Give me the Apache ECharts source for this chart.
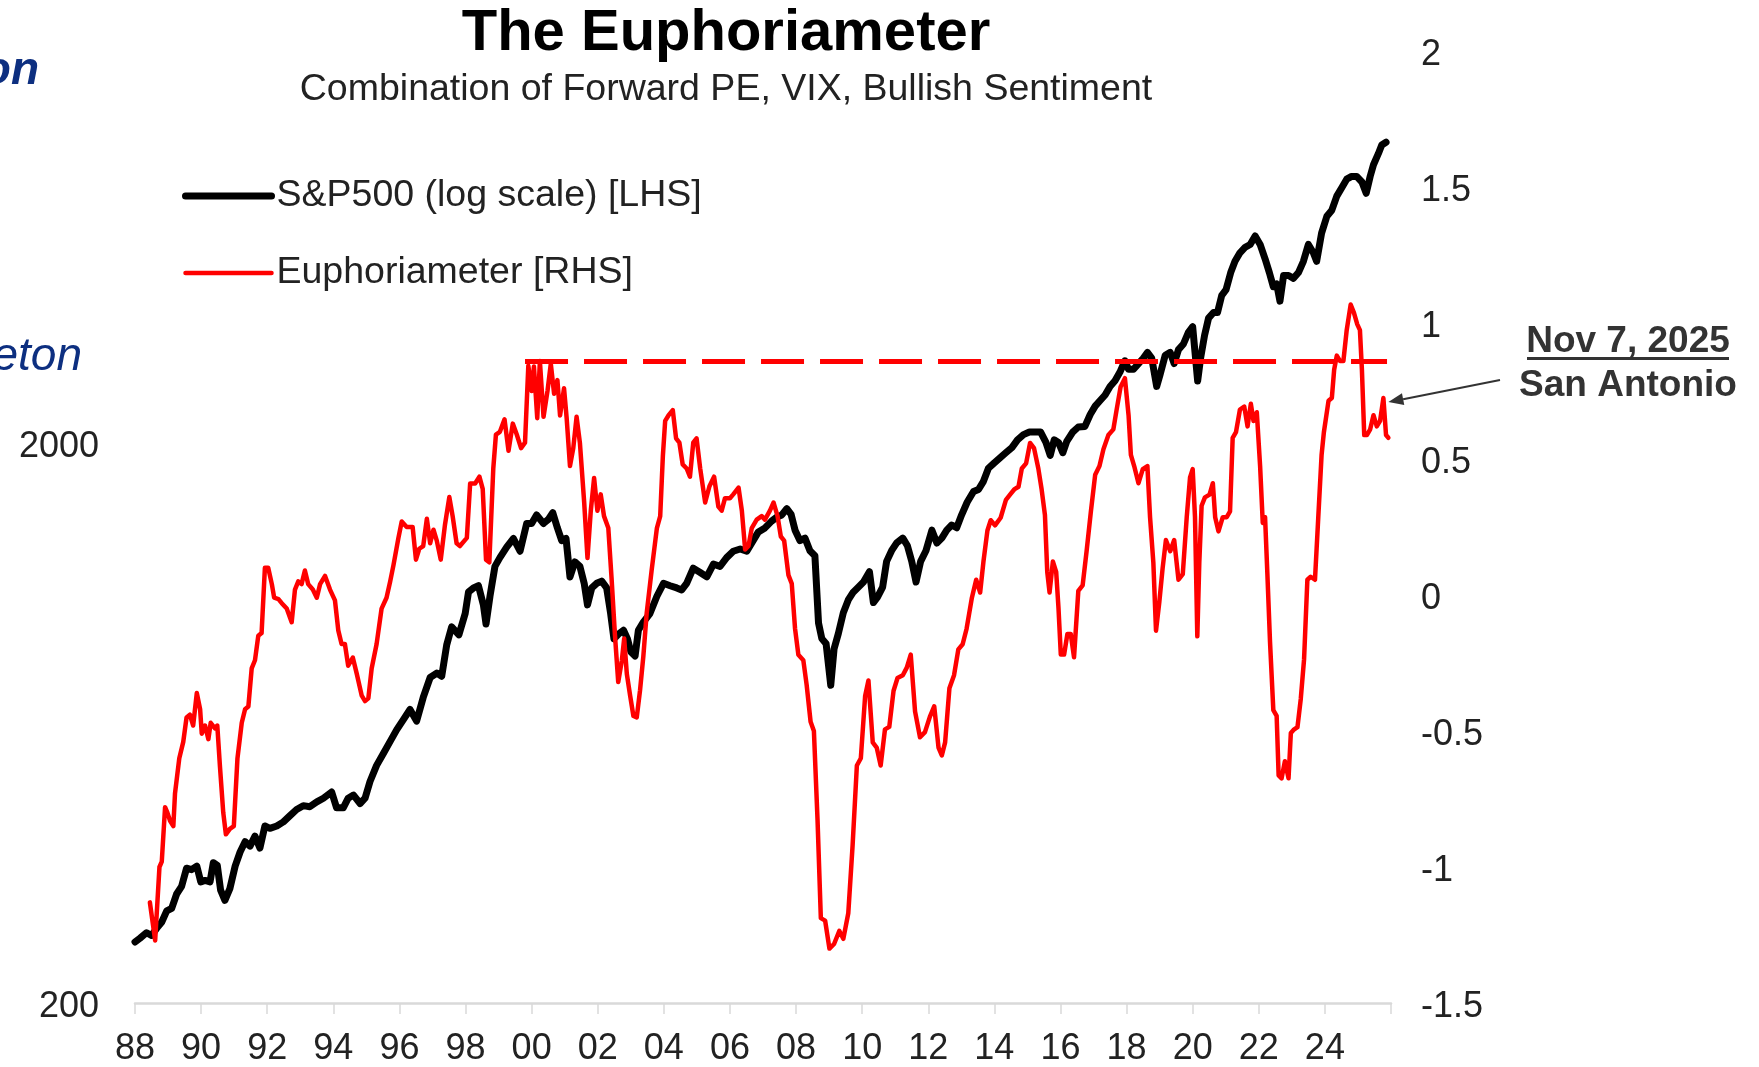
<!DOCTYPE html>
<html>
<head>
<meta charset="utf-8">
<title>The Euphoriameter</title>
<script src="https://cdn.jsdelivr.net/npm/echarts@6.0.0/dist/echarts.min.js"></script>
<style>
    html, body { margin: 0; padding: 0; background: #fff; }
    #chart { width: 1759px; height: 1067px; }
</style>
</head>
<body>
<div id="chart"></div>
<script>
    // S&P500 readings (decimal year, index level)
    var spxYears = [
        1988.00, 1988.15, 1988.35, 1988.50, 1988.66, 1988.81, 1988.96, 1989.11, 1989.26, 1989.41,
        1989.56, 1989.71, 1989.87, 1989.99, 1990.12, 1990.27, 1990.37, 1990.49, 1990.59, 1990.72,
        1990.87, 1991.03, 1991.18, 1991.33, 1991.48, 1991.63, 1991.78, 1991.93, 1992.08, 1992.29,
        1992.49, 1992.69, 1992.89, 1993.09, 1993.29, 1993.50, 1993.70, 1993.95, 1994.10, 1994.30,
        1994.45, 1994.61, 1994.81, 1994.96, 1995.11, 1995.31, 1995.51, 1995.72, 1995.92, 1996.12,
        1996.32, 1996.52, 1996.72, 1996.93, 1997.13, 1997.28, 1997.43, 1997.58, 1997.80, 1997.99,
        1998.09, 1998.24, 1998.39, 1998.54, 1998.62, 1998.74, 1998.89, 1999.04, 1999.25, 1999.45,
        1999.65, 1999.85, 2000.00, 2000.15, 2000.36, 2000.51, 2000.64, 2000.78, 2000.91, 2001.04,
        2001.16, 2001.31, 2001.46, 2001.59, 2001.69, 2001.82, 2001.97, 2002.12, 2002.27, 2002.39,
        2002.49, 2002.62, 2002.78, 2002.90, 2003.00, 2003.13, 2003.23, 2003.38, 2003.58, 2003.79,
        2003.99, 2004.19, 2004.39, 2004.54, 2004.69, 2004.89, 2005.10, 2005.30, 2005.50, 2005.70,
        2005.90, 2006.10, 2006.31, 2006.51, 2006.66, 2006.86, 2007.06, 2007.26, 2007.42, 2007.57,
        2007.72, 2007.85, 2007.97, 2008.12, 2008.27, 2008.42, 2008.57, 2008.68, 2008.78, 2008.91,
        2009.05, 2009.15, 2009.28, 2009.43, 2009.58, 2009.73, 2009.89, 2010.04, 2010.22, 2010.34,
        2010.46, 2010.62, 2010.74, 2010.89, 2011.04, 2011.23, 2011.37, 2011.50, 2011.63, 2011.77,
        2011.93, 2012.11, 2012.26, 2012.41, 2012.56, 2012.71, 2012.86, 2013.01, 2013.18, 2013.37,
        2013.52, 2013.67, 2013.82, 2013.99, 2014.17, 2014.35, 2014.53, 2014.70, 2014.88, 2015.06,
        2015.23, 2015.40, 2015.56, 2015.69, 2015.81, 2015.94, 2016.07, 2016.19, 2016.37, 2016.54,
        2016.74, 2016.90, 2017.05, 2017.20, 2017.35, 2017.50, 2017.65, 2017.80, 2017.95, 2018.06,
        2018.21, 2018.36, 2018.51, 2018.63, 2018.76, 2018.91, 2019.01, 2019.17, 2019.32, 2019.44,
        2019.57, 2019.72, 2019.87, 2020.00, 2020.07, 2020.15, 2020.24, 2020.36, 2020.48, 2020.63,
        2020.75, 2020.88, 2021.01, 2021.15, 2021.28, 2021.43, 2021.59, 2021.74, 2021.89, 2022.04,
        2022.19, 2022.32, 2022.44, 2022.54, 2022.64, 2022.75, 2022.90, 2023.05, 2023.20, 2023.35,
        2023.50, 2023.65, 2023.75, 2023.90, 2024.06, 2024.21, 2024.36, 2024.51, 2024.66, 2024.81,
        2024.96, 2025.12, 2025.25, 2025.37, 2025.47, 2025.62, 2025.72, 2025.85
    ];
    var spxLevels = [
        257, 261, 267, 264, 272, 279, 292, 295, 313, 323,
        348, 346, 351, 329, 331, 329, 356, 352, 318, 305,
        320, 351, 372, 388, 381, 397, 378, 414, 410, 414,
        421, 432, 443, 450, 448, 457, 464, 476, 446, 446,
        464, 470, 454, 464, 497, 531, 557, 586, 615, 641,
        668, 637, 702, 762, 776, 766, 871, 938, 908, 991,
        1083, 1101, 1111, 1027, 949, 1064, 1203, 1247, 1303, 1349,
        1280, 1435, 1435, 1486, 1435, 1460, 1500, 1409, 1337, 1350,
        1152, 1225, 1203, 1122, 1027, 1101, 1122, 1132, 1101, 991,
        893, 910, 925, 893, 847, 832, 925, 957, 991, 1064,
        1122, 1111, 1101, 1092, 1122, 1194, 1173, 1152, 1214, 1203,
        1247, 1280, 1292, 1280, 1325, 1386, 1409, 1449, 1473, 1486,
        1525, 1490, 1396, 1337, 1351, 1283, 1257, 953, 894, 875,
        738, 857, 913, 994, 1048, 1082, 1105, 1128, 1177, 1037,
        1059, 1105, 1228, 1283, 1324, 1351, 1309, 1228, 1128, 1228,
        1283, 1396, 1324, 1351, 1396, 1426, 1410, 1487, 1567, 1636,
        1650, 1706, 1800, 1839, 1879, 1919, 1960, 2023, 2067, 2089,
        2089, 2089, 2002, 1898, 2023, 2002, 1919, 2010, 2089, 2133,
        2138, 2245, 2324, 2378, 2433, 2520, 2580, 2673, 2800, 2704,
        2704, 2768, 2832, 2898, 2832, 2520, 2642, 2865, 2898, 2768,
        2931, 3000, 3148, 3221, 2900, 2577, 2832, 3110, 3336, 3414,
        3414, 3665, 3751, 4023, 4213, 4363, 4465, 4516, 4677, 4516,
        4257, 4023, 3796, 3840, 3577, 3974, 3974, 3929, 4023, 4213,
        4516, 4363, 4213, 4731, 5071, 5199, 5508, 5703, 5906, 5973,
        5973, 5837, 5572, 5973, 6267, 6564, 6796, 6874
    ];

    // Euphoriameter readings (decimal year, index value on the right axis)
    var euphYears = [
        1988.45, 1988.61, 1988.74, 1988.81, 1988.91, 1988.98, 1989.06, 1989.16, 1989.21, 1989.34,
        1989.46, 1989.56, 1989.66, 1989.76, 1989.87, 1989.97, 1990.02, 1990.12, 1990.22, 1990.29,
        1990.42, 1990.49, 1990.57, 1990.67, 1990.75, 1990.87, 1990.99, 1991.10, 1991.23, 1991.33,
        1991.43, 1991.53, 1991.63, 1991.73, 1991.83, 1991.93, 1992.03, 1992.14, 1992.21, 1992.34,
        1992.44, 1992.59, 1992.74, 1992.84, 1992.94, 1993.04, 1993.14, 1993.24, 1993.38, 1993.50,
        1993.60, 1993.75, 1993.90, 1994.05, 1994.15, 1994.25, 1994.35, 1994.45, 1994.59, 1994.71,
        1994.86, 1994.96, 1995.06, 1995.16, 1995.31, 1995.46, 1995.61, 1995.72, 1995.82, 1995.97,
        1996.07, 1996.22, 1996.40, 1996.50, 1996.60, 1996.72, 1996.83, 1996.93, 1997.03, 1997.13,
        1997.25, 1997.38, 1997.51, 1997.61, 1997.73, 1997.83, 1998.04, 1998.14, 1998.29, 1998.42,
        1998.52, 1998.62, 1998.72, 1998.84, 1998.92, 1999.04, 1999.18, 1999.30, 1999.43, 1999.55,
        1999.68, 1999.80, 1999.90, 2000.00, 2000.07, 2000.17, 2000.25, 2000.36, 2000.48, 2000.58,
        2000.68, 2000.78, 2000.86, 2000.98, 2001.06, 2001.16, 2001.26, 2001.36, 2001.46, 2001.59,
        2001.69, 2001.79, 2001.89, 2001.99, 2002.09, 2002.19, 2002.32, 2002.42, 2002.52, 2002.62,
        2002.73, 2002.80, 2002.88, 2002.98, 2003.08, 2003.18, 2003.28, 2003.38, 2003.48, 2003.63,
        2003.79, 2003.89, 2003.97, 2004.04, 2004.14, 2004.27, 2004.37, 2004.47, 2004.57, 2004.69,
        2004.79, 2004.89, 2004.99, 2005.10, 2005.25, 2005.38, 2005.52, 2005.65, 2005.75, 2005.85,
        2006.00, 2006.10, 2006.26, 2006.36, 2006.46, 2006.56, 2006.66, 2006.81, 2006.96, 2007.06,
        2007.21, 2007.32, 2007.44, 2007.54, 2007.64, 2007.77, 2007.87, 2007.97, 2008.07, 2008.22,
        2008.32, 2008.44, 2008.54, 2008.65, 2008.75, 2008.88, 2009.01, 2009.15, 2009.31, 2009.43,
        2009.58, 2009.71, 2009.84, 2009.96, 2010.09, 2010.19, 2010.32, 2010.44, 2010.56, 2010.69,
        2010.82, 2010.95, 2011.07, 2011.23, 2011.35, 2011.47, 2011.60, 2011.75, 2011.90, 2012.05,
        2012.18, 2012.31, 2012.41, 2012.51, 2012.64, 2012.78, 2012.91, 2013.04, 2013.16, 2013.32,
        2013.45, 2013.57, 2013.67, 2013.79, 2013.89, 2014.02, 2014.19, 2014.35, 2014.48, 2014.60,
        2014.73, 2014.83, 2014.96, 2015.08, 2015.20, 2015.33, 2015.43, 2015.53, 2015.60, 2015.67,
        2015.77, 2015.87, 2015.94, 2016.01, 2016.11, 2016.21, 2016.31, 2016.41, 2016.54, 2016.67,
        2016.79, 2016.92, 2017.05, 2017.18, 2017.30, 2017.45, 2017.60, 2017.70, 2017.82, 2017.95,
        2018.06, 2018.13, 2018.23, 2018.36, 2018.49, 2018.63, 2018.71, 2018.81, 2018.89, 2018.99,
        2019.09, 2019.19, 2019.32, 2019.44, 2019.57, 2019.70, 2019.82, 2019.92, 2020.00, 2020.07,
        2020.14, 2020.20, 2020.27, 2020.37, 2020.51, 2020.61, 2020.68, 2020.78, 2020.91, 2021.03,
        2021.13, 2021.21, 2021.31, 2021.43, 2021.56, 2021.66, 2021.76, 2021.84, 2021.94, 2022.04,
        2022.12, 2022.19, 2022.26, 2022.34, 2022.44, 2022.54, 2022.60, 2022.69, 2022.79, 2022.90,
        2022.97, 2023.05, 2023.17, 2023.27, 2023.37, 2023.47, 2023.57, 2023.70, 2023.80, 2023.90,
        2023.97, 2024.11, 2024.21, 2024.28, 2024.36, 2024.46, 2024.56, 2024.66, 2024.78, 2024.88,
        2024.98, 2025.06, 2025.12, 2025.19, 2025.27, 2025.37, 2025.47, 2025.57, 2025.67, 2025.77,
        2025.85, 2025.92
    ];
    var euphValues = [
        -1.13, -1.27, -1.00, -0.98, -0.78, -0.80, -0.83, -0.85, -0.73, -0.60,
        -0.54, -0.45, -0.44, -0.48, -0.36, -0.42, -0.51, -0.48, -0.53, -0.47,
        -0.49, -0.48, -0.63, -0.80, -0.88, -0.86, -0.85, -0.60, -0.47, -0.42,
        -0.41, -0.27, -0.24, -0.15, -0.14, 0.10, 0.10, 0.04, -0.01, -0.015,
        -0.03, -0.05, -0.10, 0.02, 0.05, 0.04, 0.09, 0.04, 0.02, -0.01,
        0.04, 0.07, 0.02, -0.02, -0.13, -0.18, -0.18, -0.26, -0.23, -0.29,
        -0.37, -0.39, -0.38, -0.27, -0.18, -0.05, -0.01, 0.05, 0.11, 0.21,
        0.27, 0.25, 0.25, 0.13, 0.17, 0.18, 0.28, 0.19, 0.24, 0.20,
        0.13, 0.26, 0.36, 0.29, 0.19, 0.18, 0.21, 0.41, 0.41, 0.435,
        0.39, 0.13, 0.12, 0.465, 0.59, 0.60, 0.646, 0.53, 0.63, 0.59,
        0.54, 0.56, 0.843, 0.75, 0.84, 0.65, 0.86, 0.655, 0.75, 0.85,
        0.74, 0.79, 0.66, 0.76, 0.65, 0.474, 0.54, 0.655, 0.56, 0.34,
        0.136, 0.31, 0.43, 0.31, 0.37, 0.29, 0.246, 0.058, -0.146, -0.32,
        -0.24, -0.16, -0.29, -0.37, -0.445, -0.45, -0.35, -0.225, -0.068, 0.09,
        0.246, 0.29, 0.51, 0.64, 0.66, 0.68, 0.576, 0.56, 0.48, 0.465,
        0.435, 0.56, 0.576, 0.465, 0.34, 0.40, 0.435, 0.325, 0.31, 0.356,
        0.356, 0.37, 0.395, 0.31, 0.167, 0.18, 0.246, 0.277, 0.29, 0.277,
        0.31, 0.34, 0.29, 0.215, 0.20, 0.073, 0.042, -0.124, -0.22, -0.24,
        -0.33, -0.466, -0.50, -0.827, -1.188, -1.197, -1.30, -1.283, -1.235, -1.264,
        -1.17, -0.922, -0.627, -0.60, -0.371, -0.314, -0.542, -0.561, -0.627, -0.494,
        -0.485, -0.352, -0.305, -0.295, -0.267, -0.219, -0.428, -0.523, -0.504, -0.447,
        -0.409, -0.561, -0.590, -0.542, -0.343, -0.295, -0.20, -0.181, -0.124, -0.01,
        0.056, 0.009, 0.123, 0.237, 0.275, 0.256, 0.284, 0.35, 0.37, 0.388,
        0.398, 0.465, 0.484, 0.559, 0.54, 0.465, 0.388, 0.294, 0.085, 0.009,
        0.123, 0.085, -0.048, -0.219, -0.219, -0.143, -0.143, -0.229, 0.015, 0.035,
        0.161, 0.307, 0.442, 0.474, 0.536, 0.588, 0.609, 0.682, 0.766, 0.797,
        0.661, 0.515, 0.474, 0.411, 0.463, 0.474, 0.286, 0.119, -0.131, -0.027,
        0.098, 0.202, 0.161, 0.202, 0.056, 0.077, 0.286, 0.432, 0.463, 0.286,
        -0.152, 0.119, 0.328, 0.359, 0.369, 0.411, 0.286, 0.234, 0.286, 0.286,
        0.307, 0.578, 0.599, 0.682, 0.693, 0.62, 0.703, 0.64, 0.672, 0.474,
        0.265, 0.286, 0.077, -0.173, -0.423, -0.444, -0.663, -0.674, -0.611, -0.674,
        -0.507, -0.496, -0.486, -0.382, -0.236, 0.056, 0.067, 0.056, 0.286, 0.515,
        0.599, 0.714, 0.724, 0.828, 0.88, 0.86, 0.86, 0.974, 1.068, 1.037,
        0.995, 0.974, 0.828, 0.588, 0.588, 0.609, 0.661, 0.62, 0.64, 0.724,
        0.588, 0.578
    ];

    // axis ranges / labels
    var yearMin = 1988, yearMax = 2026, yearStep = 2;
    var spxMin = 200, spxMax = 10000;
    var spxLabels = [200, 2000];
    var euphMin = -1.5, euphMax = 2, euphStep = 0.5;

    // dashed reference at the dot-com peak level
    var peakLevel = 0.86, peakFrom = 1999.8, peakTo = 2025.88;
    // reading the arrow points at (Nov 7, 2025)
    var markedYear = 2025.77;

    var FONT = '"Liberation Sans", Arial, Helvetica, sans-serif';

    var spxData = spxYears.map(function (y, i) { return [y, spxLevels[i]]; });
    var euphData = euphYears.map(function (y, i) { return [y, euphValues[i]]; });

    // y labels sit a touch below their tick in the original
    var yLabelRich = {
        v: { fontFamily: FONT, fontSize: 36, color: '#222', padding: [8, 0, 0, 0] }
    };

    var chart = echarts.init(document.getElementById('chart'));

    var option = {
        animation: false,
        backgroundColor: '#ffffff',
        title: [{
            text: 'The Euphoriameter',
            left: 726,
            top: 5,
            textAlign: 'center',
            padding: 0,
            textStyle: { fontFamily: FONT, fontSize: 58, fontWeight: 'bold', color: '#000' }
        }, {
            text: 'Combination of Forward PE, VIX, Bullish Sentiment',
            left: 726,
            top: 71,
            textAlign: 'center',
            padding: 0,
            textStyle: { fontFamily: FONT, fontSize: 37.5, fontWeight: 'normal', color: '#222' }
        }],
        legend: {
            orient: 'vertical',
            left: 182,
            top: 176,
            padding: 0,
            itemGap: 37,
            itemWidth: 86,
            itemHeight: 30,
            lineStyle: { width: 'inherit' },
            itemStyle: { opacity: 0 },
            textStyle: { fontFamily: FONT, fontSize: 37.5, lineHeight: 40, color: '#222' },
            data: ['S&P500 (log scale) [LHS]', 'Euphoriameter [RHS]']
        },
        grid: {
            left: 135,
            right: 368,
            top: 51,
            bottom: 64,
            containLabel: false,
            outerBoundsMode: 'none'
        },
        xAxis: {
            type: 'value',
            min: yearMin,
            max: yearMax,
            interval: yearStep,
            splitLine: { show: false },
            axisLine: { show: true, onZero: false, lineStyle: { color: '#d9d9d9', width: 2.5 } },
            axisTick: { show: true, length: 11, lineStyle: { color: '#d9d9d9', width: 1.5 } },
            axisLabel: {
                margin: 28,
                fontFamily: FONT,
                fontSize: 36,
                color: '#222',
                formatter: function (v) {
                    if (v >= yearMax) return '';
                    var s = String(v % 100);
                    return s.length < 2 ? '0' + s : s;
                }
            }
        },
        yAxis: [{
            type: 'log',
            logBase: 10,
            min: spxMin,
            max: spxMax,
            position: 'left',
            splitLine: { show: false },
            axisLine: { show: false },
            axisTick: { show: false },
            axisLabel: {
                customValues: spxLabels,
                margin: 36,
                rich: yLabelRich,
                formatter: function (v) { return '{v|' + Math.round(v) + '}'; }
            }
        }, {
            type: 'value',
            min: euphMin,
            max: euphMax,
            interval: euphStep,
            position: 'right',
            splitLine: { show: false },
            axisLine: { show: false },
            axisTick: { show: false },
            axisLabel: {
                margin: 30,
                rich: yLabelRich,
                formatter: function (v) { return '{v|' + v + '}'; }
            }
        }],
        series: [{
            name: 'S&P500 (log scale) [LHS]',
            type: 'line',
            yAxisIndex: 0,
            symbol: 'none',
            data: spxData,
            color: '#000000',
            lineStyle: { color: '#000000', width: 7, cap: 'round', join: 'round' },
            z: 2
        }, {
            name: 'Euphoriameter [RHS]',
            type: 'line',
            yAxisIndex: 1,
            symbol: 'none',
            data: euphData,
            color: '#ff0000',
            lineStyle: { color: '#ff0000', width: 4.5, cap: 'round', join: 'round' },
            z: 3,
            markLine: {
                silent: true,
                symbol: ['none', 'none'],
                label: { show: false },
                lineStyle: { color: '#ff0000', width: 5, type: [43, 16] },
                data: [[
                    { coord: [peakFrom, peakLevel] },
                    { coord: [peakTo, peakLevel] }
                ]]
            }
        }]
    };

    chart.setOption(option);

    // annotation and arrow, tip placed through the chart's own scales
    var k = euphYears.indexOf(markedYear);
    var tip = chart.convertToPixel({ xAxisIndex: 0, yAxisIndex: 1 }, [euphYears[k], euphValues[k]]);
    tip = [tip[0] + 5, tip[1] + 4];
    var tail = [1500, 380];
    var dx = tip[0] - tail[0], dy = tip[1] - tail[1];
    var len = Math.sqrt(dx * dx + dy * dy);
    var ux = dx / len, uy = dy / len;
    var headLen = 15, headHalf = 6;
    var base = [tip[0] - ux * headLen, tip[1] - uy * headLen];

    chart.setOption({
        graphic: [{
            type: 'text',
            style: {
                x: 39, y: 71, text: 'on', align: 'right', verticalAlign: 'middle',
                font: 'italic bold 46px ' + FONT, fill: '#0d2f80'
            }
        }, {
            type: 'text',
            style: {
                x: 82, y: 357, text: 'eton', align: 'right', verticalAlign: 'middle',
                font: 'italic 46px ' + FONT, fill: '#0d2f80'
            }
        }, {
            type: 'text',
            style: {
                x: 1628, y: 342, text: 'Nov 7, 2025', align: 'center', verticalAlign: 'middle',
                font: 'bold 37px ' + FONT, fill: '#333'
            }
        }, {
            type: 'rect',
            shape: { x: 1527, y: 357, width: 202, height: 3 },
            style: { fill: '#333' }
        }, {
            type: 'text',
            style: {
                x: 1628, y: 386, text: 'San Antonio', align: 'center', verticalAlign: 'middle',
                font: 'bold 37px ' + FONT, fill: '#333'
            }
        }, {
            type: 'line',
            shape: { x1: tail[0], y1: tail[1], x2: base[0], y2: base[1] },
            style: { stroke: '#333', lineWidth: 2 }
        }, {
            type: 'polygon',
            shape: {
                points: [
                    tip,
                    [base[0] - uy * headHalf, base[1] + ux * headHalf],
                    [base[0] + uy * headHalf, base[1] - ux * headHalf]
                ]
            },
            style: { fill: '#333' }
        }]
    });
</script>
</body>
</html>
